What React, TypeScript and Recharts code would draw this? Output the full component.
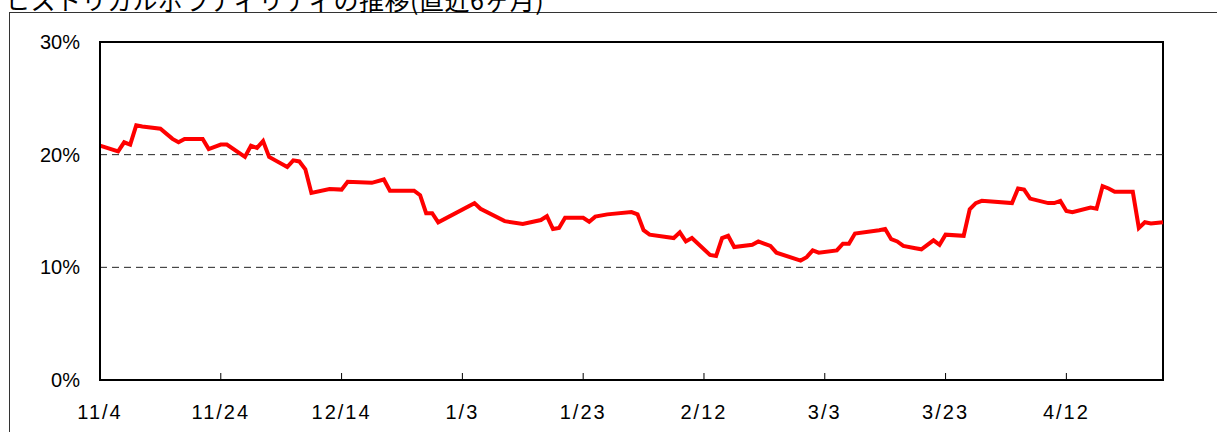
import { LineChart, Line, XAxis, YAxis, ReferenceLine, ReferenceArea } from 'recharts'

const title = 'ヒストリカルボラティリティの推移(直近6ヶ月)'

const dates = [
  '11/4', '11/7', '11/8', '11/9', '11/10', '11/11', '11/14', '11/16', '11/17', '11/18',
  '11/21', '11/22', '11/24', '11/25', '11/28', '11/29', '11/30', '12/1', '12/2', '12/5',
  '12/6', '12/7', '12/8', '12/9', '12/12', '12/14', '12/15', '12/19', '12/21', '12/22',
  '12/26', '12/27', '12/28', '12/29', '12/30', '1/5', '1/6', '1/10', '1/13', '1/16',
  '1/17', '1/18', '1/19', '1/20', '1/23', '1/24', '1/25', '1/27', '1/31', '2/1',
  '2/2', '2/3', '2/7', '2/8', '2/9', '2/10', '2/13', '2/14', '2/15', '2/16',
  '2/17', '2/20', '2/21', '2/23', '2/24', '2/28', '2/29', '3/1', '3/2', '3/5',
  '3/6', '3/7', '3/8', '3/12', '3/13', '3/14', '3/15', '3/16', '3/18', '3/19',
  '3/21', '3/22', '3/23', '3/26', '3/27', '3/28', '3/29', '4/3', '4/4', '4/5',
  '4/6', '4/9', '4/10', '4/11', '4/12', '4/13', '4/16', '4/17', '4/18', '4/19',
  '4/20', '4/23', '4/24', '4/25', '4/26', '4/28',
]

// ヒストリカルボラティリティ (%)
const hv = [
  20.8, 20.3, 21.1, 20.9, 22.6, 22.5, 22.3, 21.4, 21.1, 21.4,
  21.4, 20.5, 20.9, 20.9, 19.8, 20.8, 20.6, 21.2, 19.8, 18.9,
  19.5, 19.4, 18.7, 16.6, 16.95, 16.9, 17.6, 17.5, 17.8, 16.8,
  16.8, 16.4, 14.8, 14.8, 14.0, 15.7, 15.2, 14.1, 13.85, 14.2,
  14.55, 13.4, 13.5, 14.4, 14.4, 14.05, 14.5, 14.7, 14.9, 14.7,
  13.3, 12.9, 12.6, 13.1, 12.3, 12.6, 11.1, 11.0, 12.6, 12.8,
  11.8, 12.0, 12.3, 11.9, 11.3, 10.6, 10.9, 11.5, 11.3, 11.5,
  12.1, 12.1, 13.0, 13.3, 13.4, 12.5, 12.3, 11.9, 11.7, 11.6,
  12.4, 12.0, 12.9, 12.8, 15.15, 15.7, 15.9, 15.7, 17.0, 16.9,
  16.1, 15.7, 15.7, 15.9, 15.0, 14.9, 15.3, 15.2, 17.2, 17.0,
  16.7, 16.7, 13.5, 14.0, 13.9, 14.0,
]

const tickDates = ['11/4', '11/24', '12/14', '1/3', '1/23', '2/12', '3/3', '3/23', '4/12']
const lastDate = '4/28'
const yTicks = [0, 10, 20, 30]
const gridValues = [10, 20]

const START = Date.UTC(2019, 10, 4)
function dayOf(md: string) {
  const [m, d] = md.split('/').map(Number)
  const y = m >= 11 ? 2019 : 2020
  return Math.round((Date.UTC(y, m - 1, d) - START) / 86400000)
}

const data = dates.map((d, i) => ({ day: dayOf(d), hv: hv[i] }))
const xTicks = tickDates.map(dayOf)
const labelOf: Record<number, string> = {}
tickDates.forEach((d) => { labelOf[dayOf(d)] = d })

const font = '"Liberation Sans", Arial, sans-serif'

export default function App() {
  return (
    <div style={{ position: 'absolute', left: 0, top: 0, width: 1217, height: 432, overflow: 'hidden', background: '#fff' }}>
      <div
        style={{
          position: 'absolute', left: 9, top: 12, width: 1300, height: 500,
          border: '1px solid #333', boxSizing: 'border-box',
        }}
      />
      <div
        style={{
          position: 'absolute', left: 5, top: -13, fontSize: 25, lineHeight: '25px',
          fontFamily: '"Noto Sans CJK JP", sans-serif', color: '#000', whiteSpace: 'nowrap',
          letterSpacing: 0.5,
        }}
      >
        {title}
      </div>
      <div style={{ position: 'absolute', left: 0, top: 0 }}>
        <LineChart width={1217} height={432} data={data} margin={{ top: 42, right: 54, left: 0, bottom: 0 }}>
          <XAxis
            dataKey="day"
            type="number"
            domain={[0, dayOf(lastDate)]}
            ticks={xTicks}
            tickFormatter={(v: number) => labelOf[v] ?? ''}
            height={52}
            axisLine={{ stroke: '#000', strokeWidth: 2 }}
            tickLine={{ stroke: '#000', strokeWidth: 1 }}
            tickSize={-7}
            tickMargin={32}
            tick={{ fill: '#000', fontSize: 20, fontFamily: font, letterSpacing: 2 }}
            interval={0}
          />
          <YAxis
            type="number"
            domain={[0, 30]}
            ticks={yTicks}
            tickFormatter={(v: number) => `${v}%`}
            width={100}
            axisLine={{ stroke: '#000', strokeWidth: 2 }}
            tickLine={false}
            tickSize={0}
            tickMargin={20}
            tick={{ fill: '#000', fontSize: 20, fontFamily: font }}
            interval={0}
          />
          {gridValues.map((v) => (
            <ReferenceLine key={v} y={v} stroke="#222" strokeWidth={1} strokeDasharray="7 5" />
          ))}
          <ReferenceArea
            x1={0}
            x2={dayOf(lastDate)}
            y1={0}
            y2={30}
            fill="none"
            fillOpacity={0}
            stroke="#000"
            strokeWidth={2}
          />
          <Line
            type="linear"
            dataKey="hv"
            stroke="#ff0000"
            strokeWidth={4}
            dot={false}
            isAnimationActive={false}
          />
        </LineChart>
      </div>
    </div>
  )
}
